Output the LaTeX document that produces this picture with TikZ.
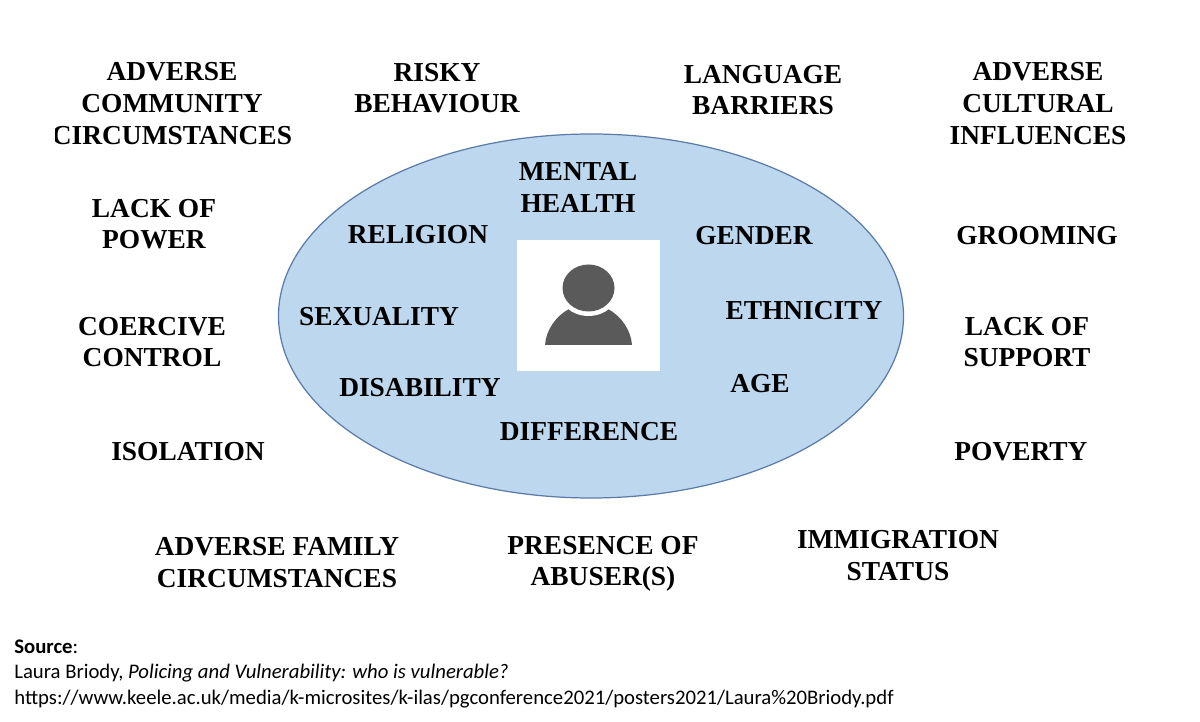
\documentclass[tikz,border=0pt]{standalone}
\usepackage{fontspec}
\setmainfont{Liberation Serif}
\newfontfamily\srcfont{Carlito}
\tikzset{
  factor/.style={align=center, font=\fontsize{15.6}{18}\selectfont\bfseries, inner sep=0pt},
  srcline/.style={anchor=west, font=\fontsize{11.8}{14}\selectfont\srcfont, inner sep=0pt}
}
\definecolor{ovalblue}{HTML}{BDD7EE}
\definecolor{ovaledge}{HTML}{5B7CA8}
\definecolor{persongrey}{HTML}{5A5A5A}
\begin{document}
\begin{tikzpicture}[x=0.02cm, y=-0.02cm]
  \useasboundingbox (0,0) rectangle (1200,722);
  \fill[white] (0,0) rectangle (1200,722);

  \draw[fill=ovalblue, draw=ovaledge, line width=0.7pt] (591,316) ellipse (312.5 and 182);
  \node (photo) at (588.5,305.5) [fill=white, minimum width=2.86cm, minimum height=2.62cm, inner sep=0pt] {};

  % person
  \fill[persongrey] (545,345) .. controls (546,330) and (556,316) .. (569,309) -- (608,309) .. controls (621,316) and (631,330) .. (632,345) -- cycle;
  \fill[white] (588.5,288) ellipse (31 and 28);
  \fill[persongrey] (588.5,288) ellipse (26 and 23.5);

  % inside the oval
  \node (mental) at (578,187.5) [factor] {MENTAL\\HEALTH};
  \node (religion) at (418,234.5) [factor] {RELIGION};
  \node (gender) at (754,235.5) [factor] {GENDER};
  \node (sexuality) at (379,316.5) [factor] {SEXUALITY};
  \node (ethnicity) at (804,310.5) [factor] {ETHNICITY};
  \node (disability) at (420,387.5) [factor] {DISABILITY};
  \node (age) at (760,383.5) [factor] {AGE};
  \node (difference) at (589,431.5) [factor] {DIFFERENCE};

  % outside the oval
  \node (community) at (172,103.5) [factor] {ADVERSE\\COMMUNITY\\CIRCUMSTANCES};
  \fill[white] (30,120) rectangle (55,150);
  \node (risky) at (437,88) [factor] {RISKY\\BEHAVIOUR};
  \node (language) at (763,90) [factor] {LANGUAGE\\BARRIERS};
  \node (cultural) at (1038,103.5) [factor] {ADVERSE\\CULTURAL\\INFLUENCES};
  \node (power) at (154,224) [factor] {LACK OF\\POWER};
  \node (grooming) at (1037,235.5) [factor] {GROOMING};
  \node (coercive) at (152,342) [factor] {COERCIVE\\CONTROL};
  \node (support) at (1027,342) [factor] {LACK OF\\SUPPORT};
  \node (isolation) at (188,452) [factor] {ISOLATION};
  \node (poverty) at (1021,452) [factor] {POVERTY};
  \node (family) at (277,562.5) [factor] {ADVERSE FAMILY\\CIRCUMSTANCES};
  \node (abuser) at (603,564) [factor] {PRESENCE OF\\ABUSER(S)};
  \node (immigration) at (898,555.5) [factor] {IMMIGRATION\\STATUS};

  % source
  \node (source) at (14,647) [srcline] {\textbf{Source}:};
  \node (author) at (14,673.5) [srcline] {Laura Briody, \textit{Policing and Vulnerability: who is vulnerable?}};
  \node (link) at (14,699.5) [srcline] {https://www.keele.ac.uk/media/k-microsites/k-ilas/pgconference2021/posters2021/Laura\%20Briody.pdf};
\end{tikzpicture}
\end{document}
